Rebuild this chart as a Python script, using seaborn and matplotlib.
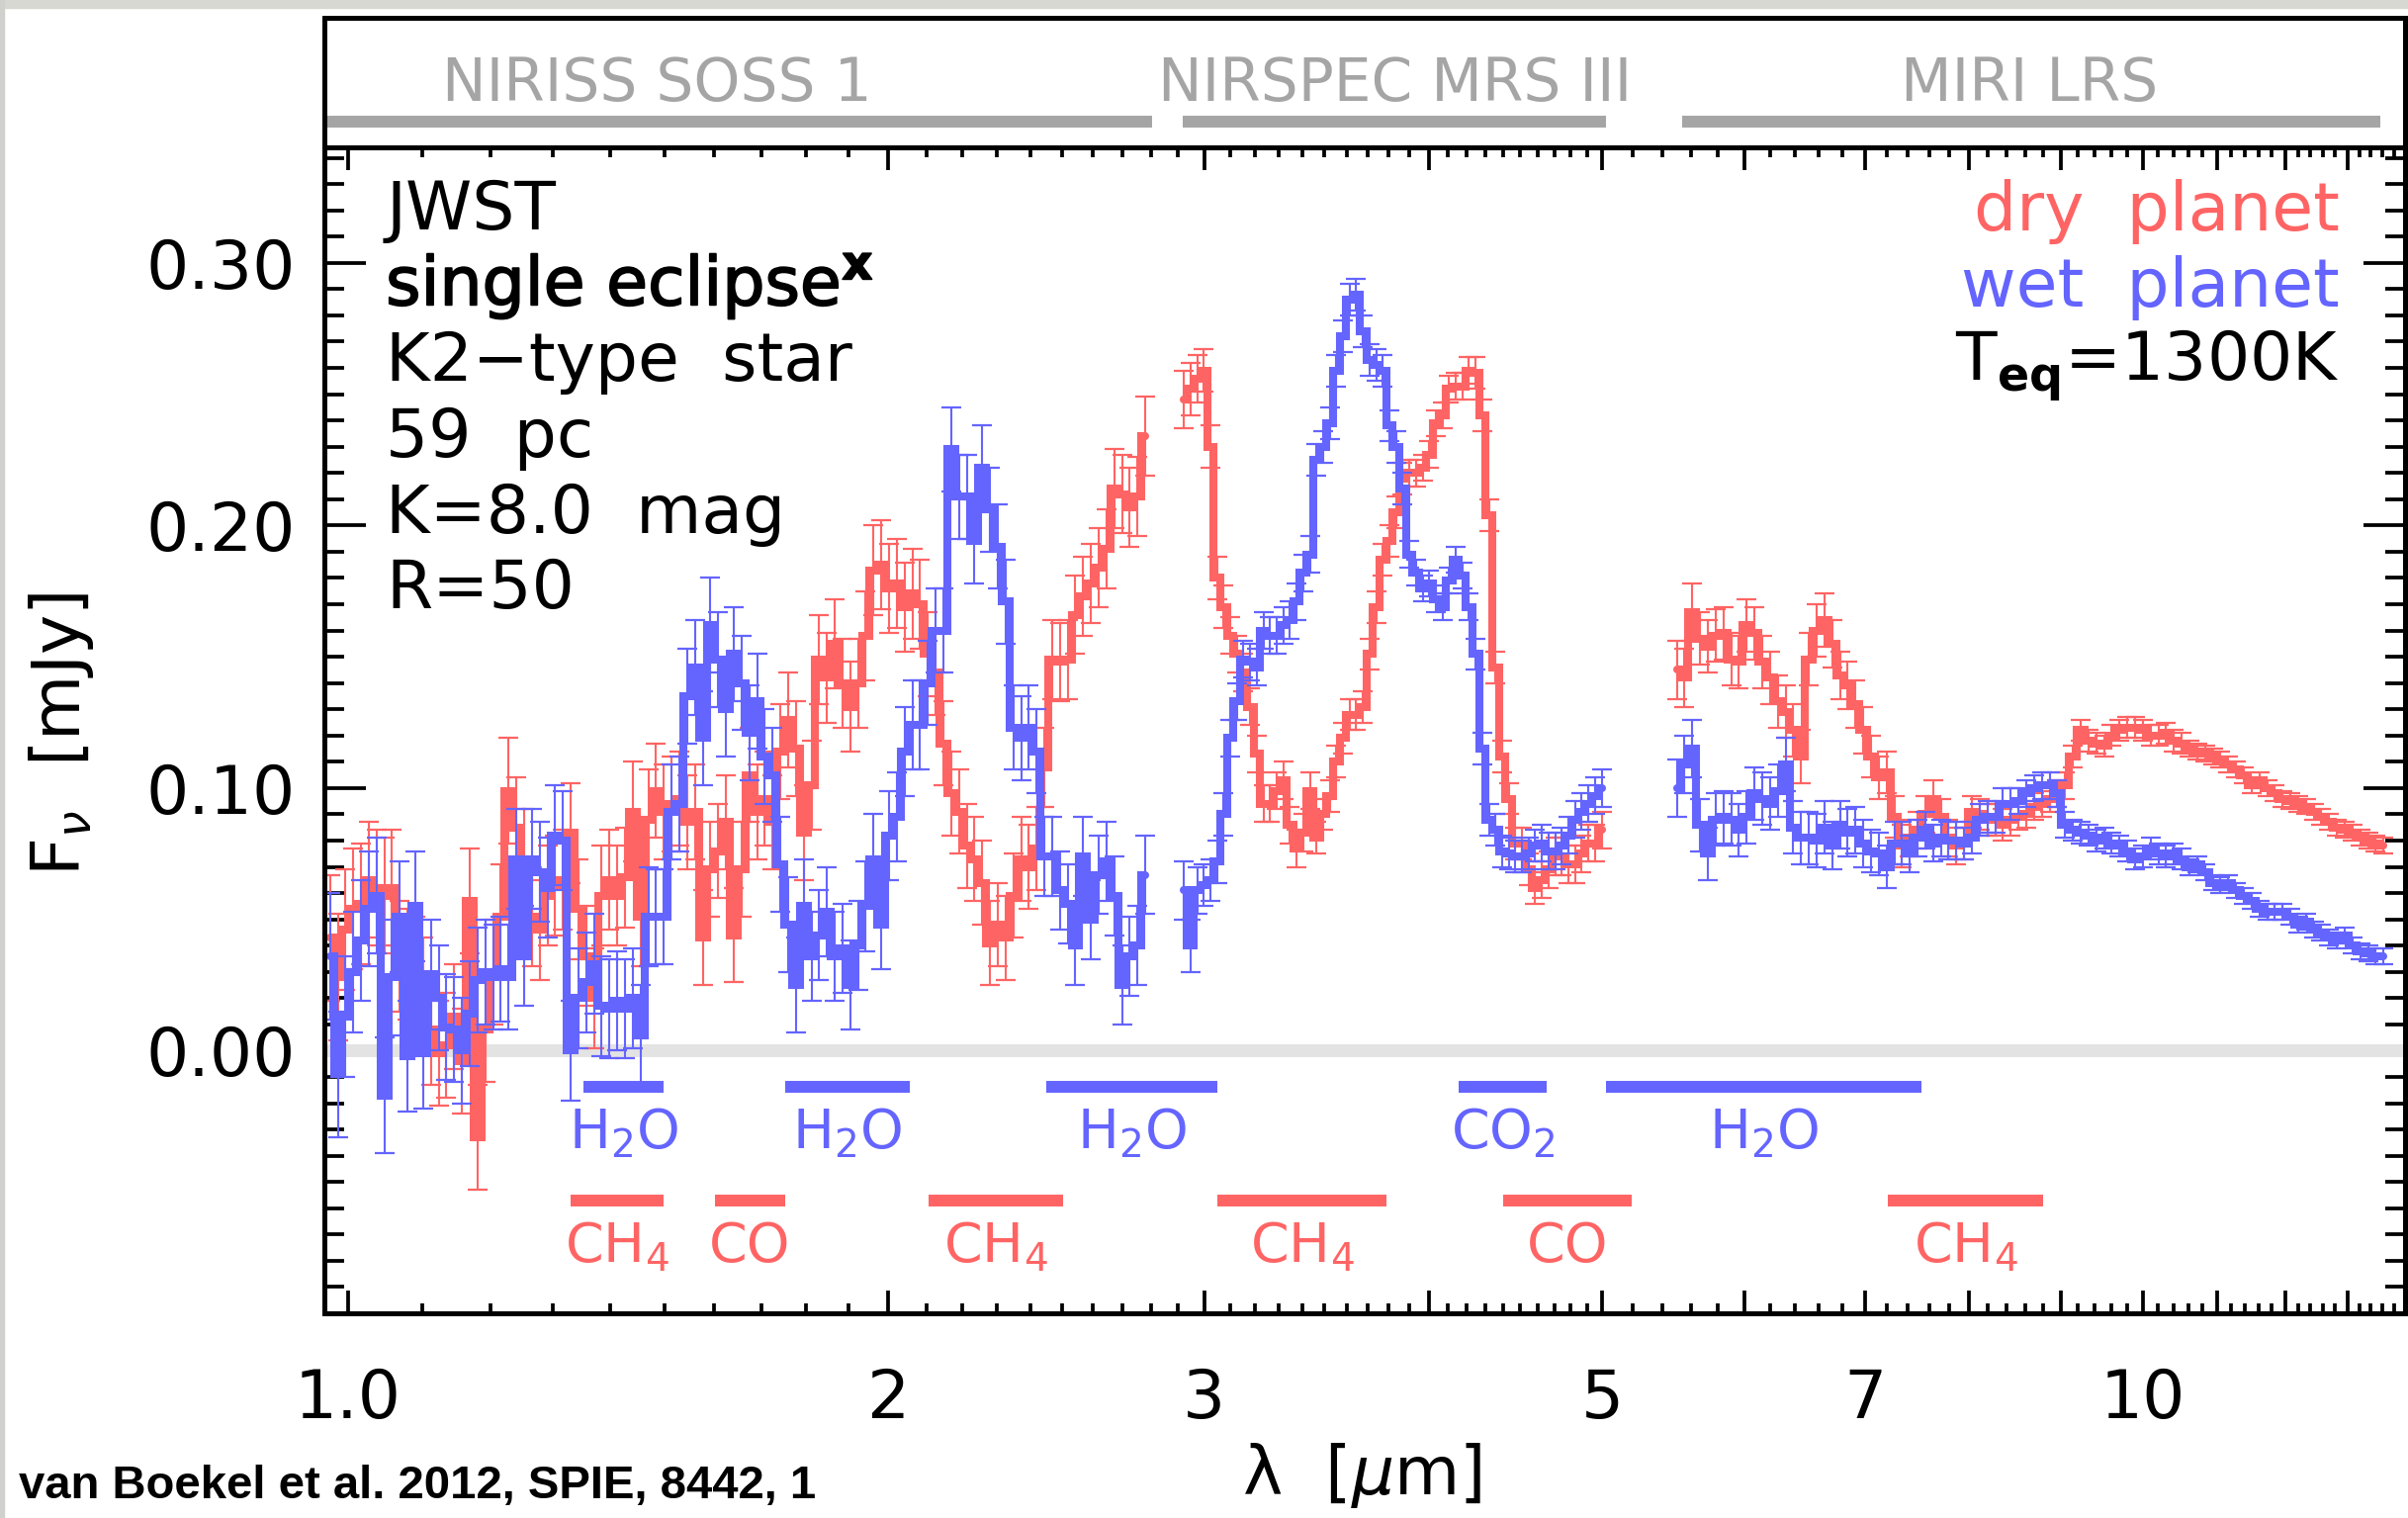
import numpy as np
import pandas as pd
import matplotlib
matplotlib.use("Agg")
import matplotlib.pyplot as plt
import matplotlib.patheffects as pe
from matplotlib.patches import Rectangle
from matplotlib.ticker import FixedLocator, FixedFormatter, NullFormatter, NullLocator
import seaborn as sns

# ---------------------------------------------------------------------------
# Simulated single-eclipse JWST spectra (F_nu in mJy), one wavelength grid per
# instrument setting (log-uniform bins between the given limits, in micron)
# ---------------------------------------------------------------------------
niriss_range = (0.977, 2.781)
nirspec_range = (2.922, 4.994)
miri_range = (5.50, 13.62)

dry_niriss = [
    0.043, 0.028, 0.046, 0.054, 0.056, 0.065, 0.062, 0.059, 0.062, 0.036,
    0.033, 0.030, 0.022, 0.008, -0.001, 0.002, 0.013, -0.004, 0.057, -0.033,
    0.008, 0.030, 0.051, 0.099, 0.085, 0.073, 0.051, 0.046, 0.059, 0.063,
    0.065, 0.083, 0.054, 0.036, 0.020, 0.059, 0.065, 0.059, 0.066, 0.091,
    0.051, 0.088, 0.099, 0.091, 0.094, 0.096, 0.087, 0.091, 0.043, 0.069,
    0.076, 0.087, 0.044, 0.069, 0.105, 0.091, 0.096, 0.087, 0.114, 0.126,
    0.115, 0.083, 0.101, 0.149, 0.142, 0.155, 0.140, 0.131, 0.140, 0.158,
    0.183, 0.185, 0.176, 0.178, 0.169, 0.174, 0.170, 0.151, 0.144, 0.117,
    0.098, 0.091, 0.078, 0.073, 0.064, 0.041, 0.048, 0.043, 0.059, 0.073,
    0.070, 0.077, 0.108, 0.149, 0.148, 0.149, 0.166, 0.173, 0.178, 0.184,
    0.191, 0.214, 0.212, 0.207, 0.211, 0.234,
]
wet_niriss = [
    0.036, -0.009, 0.013, 0.030, 0.042, 0.054, 0.059, -0.017, 0.028, 0.051,
    -0.002, 0.055, -0.001, 0.029, 0.020, 0.009, 0.008, 0.000, 0.014, 0.027,
    0.030, 0.028, 0.031, 0.028, 0.073, 0.036, 0.073, 0.068, 0.062, 0.082,
    0.080, 0.000, 0.020, 0.026, 0.033, 0.017, 0.016, 0.019, 0.016, 0.020,
    0.006, 0.051, 0.051, 0.051, 0.091, 0.094, 0.135, 0.146, 0.119, 0.162,
    0.149, 0.130, 0.151, 0.140, 0.121, 0.133, 0.112, 0.105, 0.071, 0.048,
    0.025, 0.055, 0.036, 0.044, 0.053, 0.036, 0.039, 0.025, 0.040, 0.055,
    0.073, 0.048, 0.082, 0.089, 0.114, 0.124, 0.124, 0.140, 0.160, 0.160,
    0.229, 0.211, 0.211, 0.194, 0.222, 0.206, 0.192, 0.171, 0.123, 0.119,
    0.123, 0.114, 0.074, 0.074, 0.061, 0.056, 0.040, 0.074, 0.050, 0.067,
    0.072, 0.059, 0.025, 0.036, 0.040, 0.067,
]
err_niriss = [
    0.024, 0.024, 0.023, 0.023, 0.023, 0.022, 0.022, 0.022, 0.022, 0.021,
    0.021, 0.021, 0.021, 0.021, 0.020, 0.020, 0.020, 0.020, 0.020, 0.020,
    0.020, 0.020, 0.020, 0.020, 0.019, 0.019, 0.019, 0.019, 0.019, 0.019,
    0.019, 0.019, 0.019, 0.019, 0.019, 0.019, 0.019, 0.019, 0.019, 0.019,
    0.019, 0.019, 0.018, 0.018, 0.018, 0.018, 0.018, 0.018, 0.018, 0.018,
    0.018, 0.018, 0.018, 0.018, 0.018, 0.018, 0.018, 0.018, 0.018, 0.018,
    0.018, 0.018, 0.017, 0.017, 0.017, 0.017, 0.017, 0.017, 0.017, 0.017,
    0.017, 0.017, 0.017, 0.017, 0.017, 0.017, 0.017, 0.016, 0.016, 0.016,
    0.016, 0.016, 0.016, 0.016, 0.016, 0.016, 0.016, 0.016, 0.016, 0.016,
    0.016, 0.016, 0.015, 0.015, 0.015, 0.015, 0.015, 0.015, 0.015, 0.015,
    0.015, 0.015, 0.015, 0.015, 0.015, 0.015,
]

dry_nirspec = [
    0.248, 0.252, 0.256, 0.259, 0.230, 0.180, 0.169, 0.158, 0.151, 0.144,
    0.131, 0.113, 0.094, 0.094, 0.099, 0.103, 0.086, 0.077, 0.083, 0.099,
    0.081, 0.090, 0.097, 0.110, 0.119, 0.128, 0.128, 0.131, 0.151, 0.169,
    0.187, 0.194, 0.205, 0.218, 0.220, 0.220, 0.222, 0.227, 0.239, 0.242,
    0.252, 0.253, 0.253, 0.259, 0.258, 0.242, 0.204, 0.146, 0.112, 0.096,
    0.079, 0.079, 0.069, 0.062, 0.065, 0.069, 0.074, 0.074, 0.071, 0.071,
    0.075, 0.079, 0.079, 0.084,
]
wet_nirspec = [
    0.061, 0.040, 0.061, 0.063, 0.065, 0.072, 0.090, 0.119, 0.133, 0.149,
    0.148, 0.146, 0.160, 0.158, 0.158, 0.162, 0.164, 0.171, 0.182, 0.189,
    0.225, 0.230, 0.239, 0.259, 0.272, 0.286, 0.288, 0.274, 0.263, 0.261,
    0.259, 0.238, 0.230, 0.214, 0.189, 0.182, 0.176, 0.178, 0.172, 0.169,
    0.179, 0.187, 0.181, 0.169, 0.151, 0.115, 0.088, 0.084, 0.076, 0.075,
    0.074, 0.074, 0.075, 0.078, 0.079, 0.076, 0.076, 0.078, 0.082, 0.088,
    0.091, 0.094, 0.097, 0.100,
]
err_nirspec = [
    0.011, 0.010, 0.009, 0.008, 0.008, 0.008, 0.008, 0.007, 0.007, 0.007,
    0.007, 0.007, 0.007, 0.007, 0.007, 0.007, 0.007, 0.007, 0.007, 0.007,
    0.006, 0.006, 0.006, 0.006, 0.006, 0.006, 0.006, 0.006, 0.006, 0.006,
    0.006, 0.006, 0.006, 0.006, 0.005, 0.005, 0.005, 0.005, 0.005, 0.005,
    0.005, 0.005, 0.005, 0.005, 0.006, 0.006, 0.006, 0.006, 0.006, 0.006,
    0.006, 0.006, 0.006, 0.006, 0.007, 0.007, 0.007, 0.007, 0.007, 0.007,
    0.007, 0.007, 0.007, 0.007,
]

dry_miri = [
    0.145, 0.142, 0.167, 0.157, 0.154, 0.158, 0.159, 0.149, 0.148, 0.162,
    0.159, 0.148, 0.142, 0.133, 0.129, 0.122, 0.112, 0.149, 0.160, 0.164,
    0.155, 0.143, 0.139, 0.132, 0.122, 0.112, 0.104, 0.106, 0.089, 0.078,
    0.081, 0.084, 0.090, 0.096, 0.089, 0.081, 0.078, 0.079, 0.091, 0.090,
    0.088, 0.088, 0.086, 0.088, 0.089, 0.090, 0.093, 0.094, 0.096, 0.098,
    0.101, 0.112, 0.122, 0.118, 0.117, 0.116, 0.120, 0.122, 0.123, 0.123,
    0.122, 0.120, 0.120, 0.121, 0.118, 0.117, 0.115, 0.114, 0.113, 0.112,
    0.111, 0.109, 0.107, 0.105, 0.101, 0.103, 0.100, 0.098, 0.096, 0.095,
    0.094, 0.093, 0.091, 0.089, 0.087, 0.085, 0.084, 0.083, 0.081, 0.080,
    0.079, 0.078,
]
wet_miri = [
    0.100, 0.109, 0.115, 0.086, 0.075, 0.088, 0.089, 0.088, 0.084, 0.089,
    0.098, 0.096, 0.094, 0.099, 0.109, 0.085, 0.081, 0.081, 0.080, 0.085,
    0.078, 0.086, 0.083, 0.084, 0.079, 0.076, 0.075, 0.070, 0.079, 0.079,
    0.075, 0.081, 0.084, 0.079, 0.081, 0.080, 0.080, 0.079, 0.081, 0.088,
    0.089, 0.089, 0.094, 0.094, 0.095, 0.098, 0.100, 0.101, 0.101, 0.098,
    0.086, 0.084, 0.083, 0.082, 0.080, 0.081, 0.079, 0.078, 0.076, 0.073,
    0.074, 0.077, 0.075, 0.074, 0.075, 0.073, 0.070, 0.071, 0.068, 0.064,
    0.063, 0.064, 0.061, 0.059, 0.057, 0.054, 0.053, 0.053, 0.053, 0.051,
    0.048, 0.049, 0.046, 0.045, 0.043, 0.042, 0.044, 0.040, 0.038, 0.037,
    0.036, 0.036,
]
err_miri = [
    0.011, 0.011, 0.011, 0.010, 0.010, 0.010, 0.010, 0.010, 0.010, 0.010,
    0.010, 0.010, 0.010, 0.010, 0.010, 0.010, 0.010, 0.010, 0.010, 0.010,
    0.009, 0.009, 0.009, 0.009, 0.009, 0.008, 0.008, 0.008, 0.008, 0.008,
    0.007, 0.007, 0.007, 0.007, 0.007, 0.007, 0.007, 0.006, 0.006, 0.006,
    0.006, 0.006, 0.006, 0.006, 0.005, 0.005, 0.005, 0.005, 0.005, 0.005,
    0.005, 0.004, 0.004, 0.004, 0.004, 0.004, 0.004, 0.004, 0.004, 0.004,
    0.004, 0.004, 0.004, 0.004, 0.004, 0.004, 0.003, 0.003, 0.003, 0.003,
    0.003, 0.003, 0.003, 0.003, 0.003, 0.003, 0.003, 0.003, 0.003, 0.003,
    0.003, 0.003, 0.003, 0.003, 0.003, 0.003, 0.003, 0.003, 0.003, 0.003,
    0.003, 0.003,
]

# instrument coverage (top strip)
instrument_names = ["NIRISS SOSS 1", "NIRSPEC MRS III", "MIRI LRS"]
instrument_lo = [0.974, 2.918, 5.54]
instrument_hi = [2.806, 5.02, 13.56]
instrument_label_at = [1.487, 3.83, 8.65]

# molecular bands
wet_band_names = ["H$_2$O", "H$_2$O", "H$_2$O", "CO$_2$", "H$_2$O"]
wet_band_lo = [1.352, 1.751, 2.449, 4.155, 5.02]
wet_band_hi = [1.498, 2.057, 3.05, 4.657, 7.53]
dry_band_names = ["CH$_4$", "CO", "CH$_4$", "CH$_4$", "CO", "CH$_4$"]
dry_band_lo = [1.330, 1.602, 2.106, 3.05, 4.40, 7.21]
dry_band_hi = [1.498, 1.751, 2.503, 3.79, 5.19, 8.80]

# axis ticks
x_major = [1, 2, 3, 4, 5, 6, 7, 8, 9, 10, 11, 12, 13, 14]
x_major_labels = ["1.0", "2", "3", "", "5", "", "7", "", "", "10", "", "", "", ""]
y_major = [0.0, 0.1, 0.2, 0.3]
y_major_labels = ["0.00", "0.10", "0.20", "0.30"]

left_notes = ["JWST", "single eclipse$^{\\mathbf{x}}$", "K2\u2212type  star",
              "59  pc", "K=8.0  mag", "R=50"]

# ---------------------------------------------------------------------------
segments = [
    ("NIRISS", niriss_range, dry_niriss, wet_niriss, err_niriss),
    ("NIRSpec", nirspec_range, dry_nirspec, wet_nirspec, err_nirspec),
    ("MIRI", miri_range, dry_miri, wet_miri, err_miri),
]
frames = []
for seg, (lo, hi), dry, wet, err in segments:
    lam = np.geomspace(lo, hi, len(dry))
    for planet, vals in (("dry", dry), ("wet", wet)):
        frames.append(pd.DataFrame({"segment": seg, "planet": planet,
                                    "wavelength": lam, "flux": vals, "err": err}))
spec = pd.concat(frames, ignore_index=True)

sns.set_style("white")
plt.rcParams["font.family"] = ["DejaVu Sans"]
plt.rcParams["mathtext.fontset"] = "dejavusans"
for key in ("text.color", "axes.labelcolor", "xtick.color", "ytick.color",
            "axes.edgecolor"):
    plt.rcParams[key] = "black"

RED = "#ff6464"
BLUE = "#6464ff"
GREY = "#a5a5a5"
W, H = 2435, 1535

fig = plt.figure(figsize=(W / 100, H / 100), dpi=100)
fig.patch.set_facecolor("white")
# thin grey margin along the top and left edges
fig.patches.append(Rectangle((0, 1 - 8 / H), 1, 8 / H, transform=fig.transFigure,
                             color="#d8d8d2", zorder=0))
fig.patches.append(Rectangle((0, 0), 4 / W, 1, transform=fig.transFigure,
                             color="#d0d0cc", zorder=0))

ax = fig.add_axes([328 / W, 1 - 1328 / H, (2432 - 328) / W, (1328 - 149) / H])
axt = fig.add_axes([328 / W, 1 - 149 / H, (2432 - 328) / W, (149 - 18) / H])

# zero level
ax.axhline(0.0, color="#e3e3e3", lw=9.4, zorder=1)

for planet, color, z in (("dry", RED, 3), ("wet", BLUE, 5)):
    for seg, *_ in segments:
        d = spec[(spec["planet"] == planet) & (spec["segment"] == seg)]
        ax.errorbar(d["wavelength"], d["flux"], yerr=d["err"], fmt="none",
                    ecolor=color, elinewidth=1.5, capsize=7.5, capthick=1.6,
                    zorder=z)
        sns.lineplot(data=d, x="wavelength", y="flux", ax=ax, color=color,
                     lw=5.8, drawstyle="steps-mid", estimator=None, sort=False,
                     legend=False, zorder=z + 0.5, solid_joinstyle="miter")

ax.set_xscale("log")
ax.set_xlim(0.97, 14.0)
ax.set_ylim(-0.1, 0.344)

# molecular band markers
for names, los, his, yb, yl, color in (
        (wet_band_names, wet_band_lo, wet_band_hi, -0.0139, -0.037, BLUE),
        (dry_band_names, dry_band_lo, dry_band_hi, -0.057, -0.0805, RED)):
    for name, lo, hi in zip(names, los, his):
        ax.plot([lo, hi], [yb, yb], color=color, lw=8.6, solid_capstyle="butt",
                zorder=6)
        ax.text(np.sqrt(lo * hi), yl, name, color=color, fontsize=40,
                ha="center", va="baseline", zorder=6)

# ticks
ax.xaxis.set_major_locator(FixedLocator(x_major))
ax.xaxis.set_major_formatter(FixedFormatter(x_major_labels))
minor = [v / 10 for v in range(11, 50) if v % 10] + \
        [v / 10 for v in range(52, 140, 2) if v % 10]
ax.xaxis.set_minor_locator(FixedLocator(minor))
ax.xaxis.set_minor_formatter(NullFormatter())
ax.yaxis.set_major_locator(FixedLocator(y_major))
ax.yaxis.set_major_formatter(FixedFormatter(y_major_labels))
ax.yaxis.set_minor_locator(FixedLocator([v / 100 for v in range(-10, 35)]))
ax.tick_params(axis="x", which="major", direction="in", length=16.5, width=2.7,
               top=True, bottom=True, labelsize=49, pad=39, color="black",
               labelcolor="black")
ax.tick_params(axis="x", which="minor", direction="in", length=7, width=2.7,
               top=True, bottom=True, color="black")
ax.tick_params(axis="y", which="major", direction="in", length=30, width=2.7,
               left=True, right=True, labelsize=49, pad=21, color="black",
               labelcolor="black")
ax.tick_params(axis="y", which="minor", direction="in", length=14.5, width=2.7,
               left=True, right=True, color="black")
for sp in ax.spines.values():
    sp.set_linewidth(3.6)
    sp.set_color("black")
    sp.set_zorder(10)

ax.set_xlabel("\u03bb  [$\\mu$m]", fontsize=49, color="black")
ax.xaxis.set_label_coords(0.4986, -0.139)
ax.xaxis.label.set_va("center")
ax.set_ylabel("F$_\\nu$  [mJy]", fontsize=49, color="black")
ax.yaxis.set_label_coords(-0.1264, 0.497)
ax.yaxis.label.set_va("center")

# annotation blocks
for i, line in enumerate(left_notes):
    t = ax.text(0.0295, 0.9296 - 0.0650 * i, line, transform=ax.transAxes,
                fontsize=49, ha="left", va="baseline", color="black", zorder=8)
    if i == 1:
        t.set_path_effects([pe.withStroke(linewidth=1.3, foreground="black")])
ax.text(0.9686, 0.9288, "dry  planet", color=RED, transform=ax.transAxes,
        fontsize=49, ha="right", va="baseline", zorder=8)
ax.text(0.9686, 0.8634, "wet  planet", color=BLUE, transform=ax.transAxes,
        fontsize=49, ha="right", va="baseline", zorder=8)
ax.text(0.9686, 0.7998, "T$_{\\mathbf{eq}}$=1300K", color="black",
        transform=ax.transAxes, fontsize=49, ha="right", va="baseline", zorder=8)

# instrument strip
axt.set_xscale("log")
axt.set_xlim(0.97, 14.0)
axt.set_ylim(0, 1)
axt.xaxis.set_major_locator(NullLocator())
axt.xaxis.set_minor_locator(NullLocator())
axt.yaxis.set_major_locator(NullLocator())
axt.yaxis.set_minor_locator(NullLocator())
for name, lo, hi, at in zip(instrument_names, instrument_lo, instrument_hi,
                            instrument_label_at):
    axt.plot([lo, hi], [0.198, 0.198], color=GREY, lw=8.6, solid_capstyle="butt")
    axt.text(at, 0.36, name, color=GREY, fontsize=43, ha="center", va="baseline")
for sp in axt.spines.values():
    sp.set_linewidth(3.6)
    sp.set_color("black")

fig.text(19 / W, 1 - 1515 / H, "van Boekel et al. 2012, SPIE, 8442, 1",
         fontsize=34, fontweight="bold", family=["Liberation Sans", "DejaVu Sans"],
         ha="left", va="baseline", color="black")

fig.savefig("out.png", dpi=100, facecolor=fig.get_facecolor())
